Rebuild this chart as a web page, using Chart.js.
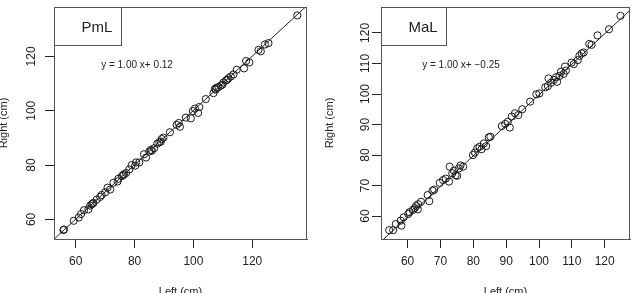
<!DOCTYPE html>
<html>
<head>
<meta charset="utf-8">
<script src="https://cdn.jsdelivr.net/npm/chart.js@4"></script>
<style>
  html, body { margin: 0; padding: 0; background: #fff; }
  #wrap { position: relative; width: 635px; height: 293px; overflow: hidden; }
  .panel { position: absolute; top: 0; height: 293px; }
</style>
</head>
<body>
<div id="wrap">
  <div class="panel" style="left:0;width:318px"><canvas id="pml"></canvas></div>
  <div class="panel" style="left:318px;width:317px"><canvas id="mal"></canvas></div>
</div>
<script>
// PmL: left vs right (cm)
const pmlLeft = [55.8, 56.0, 59.3, 61.0, 61.8, 62.8, 64.3, 64.9, 65.4, 65.8, 66.0, 67.1, 68.3, 68.8, 70.0, 70.8, 71.7, 72.8, 74.2, 74.5,
  75.7, 76.1, 76.4, 77.1, 78.2, 79.0, 80.2, 80.5, 81.6, 83.2, 83.9, 85.0, 85.5, 85.9, 86.6, 87.7, 88.4, 88.9, 89.2, 89.8,
  92.0, 94.3, 95.0, 95.4, 97.4, 99.1, 99.8, 100.5, 101.6, 102.0, 104.2, 106.8, 107.3, 107.6, 107.9, 108.5, 109.3, 109.8, 110.2, 111.1,
  111.5, 111.9, 112.7, 113.6, 114.7, 117.2, 117.9, 119.0, 122.1, 122.9, 124.3, 125.5, 135.3];
const pmlRight = [56.1, 56.3, 59.5, 60.7, 62.0, 63.4, 63.7, 65.1, 65.6, 65.9, 66.1, 67.3, 68.3, 69.0, 70.0, 71.7, 71.0, 73.5, 74.0, 75.0,
  76.0, 76.3, 76.6, 77.1, 78.4, 80.0, 79.8, 81.0, 81.0, 84.0, 82.8, 85.0, 85.6, 85.3, 86.2, 87.9, 88.4, 88.6, 89.6, 90.1,
  92.1, 94.8, 95.5, 94.1, 97.5, 97.2, 99.9, 100.8, 99.2, 101.4, 104.3, 106.5, 108.1, 107.8, 108.5, 108.7, 109.3, 109.6, 110.4, 111.2,
  111.4, 112.0, 112.6, 113.4, 115.1, 115.6, 118.3, 117.8, 122.4, 121.9, 124.4, 124.9, 135.1];

// MaL: left vs right (cm)
const malLeft = [54.4, 55.6, 56.4, 57.9, 58.1, 58.8, 60.2, 60.6, 61.6, 62.2, 62.6, 63.2, 63.1, 64.1, 66.1, 66.6, 67.6, 68.1, 69.8, 70.8,
  71.6, 72.8, 72.6, 73.6, 74.1, 74.6, 75.1, 75.6, 76.1, 76.9, 79.9, 80.5, 81.2, 81.9, 82.5, 83.2, 83.9, 84.7, 85.2, 88.7,
  89.7, 90.5, 91.1, 91.7, 92.7, 93.7, 94.9, 97.3, 99.2, 100.1, 101.9, 102.7, 102.9, 103.7, 104.5, 105.2, 105.5, 106.2, 106.7, 107.5,
  107.9, 108.2, 109.9, 110.6, 111.8, 112.3, 113.0, 113.6, 115.3, 116.0, 117.8, 121.3, 124.8];
const malRight = [55.4, 55.4, 57.4, 58.5, 56.9, 59.6, 60.7, 61.3, 62.0, 62.6, 63.3, 63.9, 62.2, 64.7, 66.9, 64.9, 68.3, 68.7, 70.9, 71.8,
  72.3, 76.2, 71.3, 74.0, 74.9, 73.4, 73.2, 75.6, 76.6, 76.2, 80.0, 80.8, 82.2, 82.7, 81.9, 83.8, 82.9, 85.8, 86.0, 89.5,
  90.2, 90.9, 89.0, 92.6, 93.7, 93.1, 95.0, 97.5, 99.9, 100.2, 102.2, 102.6, 105.1, 103.7, 104.6, 105.5, 104.0, 105.9, 107.3, 106.6,
  109.0, 107.7, 110.3, 109.8, 111.1, 112.5, 113.3, 113.6, 116.4, 116.1, 119.2, 121.2, 125.6];

// axis ticks and ranges
const pmlTicks = [60, 80, 100, 120];
const malTicks = [60, 70, 80, 90, 100, 110, 120];
const pmlXRange = [52.6, 138.6];
const pmlYRange = [52.8, 138.2];
const malXRange = [51.9, 127.7];
const malYRange = [52.5, 128.5];

// fitted lines (slope, intercept)
const pmlFit = [1.00, 0.12];
const malFit = [1.00, -0.25];

const FONT = '"Liberation Sans", Arial, sans-serif';

function makeChart(id, opts) {
  const pts = opts.xs.map((x, i) => ({ x: x, y: opts.ys[i] }));
  const line = opts.xRange.map(x => ({ x: x, y: opts.fit[0] * x + opts.fit[1] }));

  const extras = {
    id: 'extras',
    afterDraw(chart) {
      const c = chart.ctx;
      const a = chart.chartArea;
      const ys = chart.scales.y;
      c.save();
      // plot box
      c.strokeStyle = '#555';
      c.lineWidth = 1;
      c.strokeRect(a.left + 0.5, a.top + 0.5, a.right - a.left - 1, a.bottom - a.top);
      // rotated y tick labels
      c.fillStyle = '#222';
      c.font = '12px ' + FONT;
      c.textAlign = 'center';
      c.textBaseline = 'middle';
      ys.ticks.forEach(t => {
        const py = ys.getPixelForValue(t.value);
        c.save();
        c.translate(opts.yLabelX, py);
        c.rotate(-Math.PI / 2);
        c.fillText(String(t.value), 0, 0);
        c.restore();
      });
      // axis titles
      c.font = '11px ' + FONT;
      c.fillText('Left (cm)', (a.left + a.right) / 2, 292);
      c.save();
      c.translate(opts.yTitleX, (a.top + a.bottom) / 2);
      c.rotate(-Math.PI / 2);
      c.fillText('Right (cm)', 0, 0);
      c.restore();
      // legend box
      c.fillStyle = '#fff';
      c.fillRect(a.left, a.top, opts.boxW, 38);
      c.strokeStyle = '#555';
      c.strokeRect(a.left + 0.5, a.top + 0.5, opts.boxW, 38);
      c.fillStyle = '#222';
      c.font = '15px ' + FONT;
      c.fillText(opts.name, opts.nameX, a.top + 21);
      // equation
      c.font = '10px ' + FONT;
      const sign = '+ ';
      const b = opts.fit[1] < 0 ? '\u2212' + Math.abs(opts.fit[1]).toFixed(2) : opts.fit[1].toFixed(2);
      c.fillText('y = ' + opts.fit[0].toFixed(2) + ' x' + sign + b, opts.eqX, 65);
      c.restore();
    }
  };

  return new Chart(document.getElementById(id), {
    type: 'scatter',
    data: {
      datasets: [{
        data: pts,
        pointStyle: 'circle',
        pointRadius: 3.6,
        pointBorderWidth: 1,
        pointBorderColor: '#1a1a1a',
        pointBackgroundColor: 'rgba(0,0,0,0)'
      }, {
        type: 'line',
        data: line,
        borderColor: '#222',
        borderWidth: 1,
        pointRadius: 0,
        fill: false
      }]
    },
    options: {
      responsive: true,
      maintainAspectRatio: false,
      animation: false,
      events: [],
      layout: { padding: { top: 7, right: opts.padRight, left: 0, bottom: 0 } },
      plugins: { legend: { display: false }, tooltip: { enabled: false } },
      scales: {
        x: {
          type: 'linear',
          min: opts.xRange[0],
          max: opts.xRange[1],
          afterBuildTicks: s => { s.ticks = opts.ticks.map(v => ({ value: v })); },
          afterFit: s => { s.height = 54; },
          grid: { drawOnChartArea: false, drawTicks: true, tickLength: 9, color: '#222' },
          border: { display: true, color: '#555' },
          ticks: { color: '#222', padding: 6, maxRotation: 0, font: { family: FONT, size: 12 },
                   callback: v => String(v) }
        },
        y: {
          type: 'linear',
          min: opts.yRange[0],
          max: opts.yRange[1],
          afterBuildTicks: s => { s.ticks = opts.ticks.map(v => ({ value: v })); },
          afterFit: s => { s.width = opts.yWidth; },
          grid: { drawOnChartArea: false, drawTicks: true, tickLength: 9, color: '#222' },
          border: { display: true, color: '#555' },
          ticks: { display: false }
        }
      }
    },
    plugins: [extras]
  });
}

makeChart('pml', {
  xs: pmlLeft, ys: pmlRight, xRange: pmlXRange, yRange: pmlYRange, ticks: pmlTicks, fit: pmlFit,
  name: 'PmL', padRight: 11, yWidth: 54, yLabelX: 32, yTitleX: 4, boxW: 67, nameX: 97, eqX: 137
});
makeChart('mal', {
  xs: malLeft, ys: malRight, xRange: malXRange, yRange: malYRange, ticks: malTicks, fit: malFit,
  name: 'MaL', padRight: 2, yWidth: 63, yLabelX: 48, yTitleX: 12, boxW: 65, nameX: 105, eqX: 143
});
</script>
</body>
</html>
